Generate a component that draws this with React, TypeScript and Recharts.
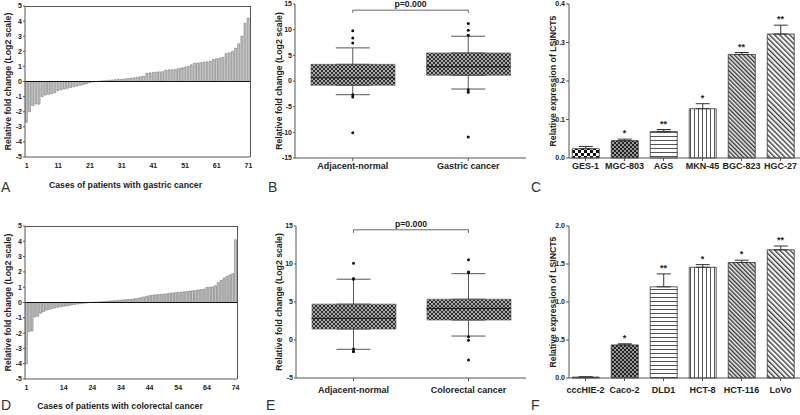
import React from 'react';
import {
  Bar, ComposedChart, XAxis, YAxis, ReferenceLine, Scatter, ErrorBar, Line, LabelList, Cell,
} from 'recharts';

const FONT = '"Liberation Sans", Arial, Helvetica, sans-serif';

// ---------- Panel A: gastric cancer waterfall ----------
const gastricFold = [
  -2.7, -2.0, -1.6, -1.5, -1.5, -1.0, -0.9, -0.85, -0.8, -0.75,
  -0.6, -0.55, -0.5, -0.45, -0.4, -0.35, -0.3, -0.25, -0.2, -0.15,
  -0.08, -0.03, 0.0, 0.02, 0.05, 0.06, 0.08, 0.1, 0.12, 0.14,
  0.15, 0.17, 0.2, 0.22, 0.25, 0.28, 0.32, 0.35, 0.55, 0.57,
  0.6, 0.62, 0.64, 0.65, 0.75, 0.77, 0.78, 0.8, 0.85, 0.9,
  0.95, 1.0, 1.1, 1.2, 1.22, 1.25, 1.28, 1.3, 1.35, 1.45,
  1.5, 1.55, 1.6, 1.85, 1.9, 2.0, 2.2, 2.5, 3.0, 3.85, 4.2,
];
const gastricTicks = ['1', '11', '21', '31', '41', '51', '61', '71'];

// ---------- Panel D: colorectal cancer waterfall ----------
const colorectalFold = [
  -4.0, -1.9, -1.85, -0.95, -0.9, -0.7, -0.6, -0.5, -0.45, -0.4,
  -0.35, -0.3, -0.28, -0.25, -0.22, -0.2, -0.15, -0.12, -0.1, -0.08,
  -0.05, -0.03, 0.0, 0.02, 0.03, 0.04, 0.05, 0.06, 0.08, 0.1,
  0.11, 0.12, 0.14, 0.15, 0.17, 0.19, 0.2, 0.22, 0.25, 0.28,
  0.32, 0.36, 0.4, 0.45, 0.48, 0.5, 0.52, 0.53, 0.55, 0.57,
  0.6, 0.62, 0.64, 0.66, 0.68, 0.7, 0.72, 0.74, 0.76, 0.78,
  0.82, 0.85, 0.87, 0.98, 1.0, 1.02, 1.1, 1.3, 1.45, 1.6,
  1.7, 1.8, 1.88, 4.1,
];
const colorectalTicks = ['1', '14', '24', '34', '44', '54', '64', '74'];
const foldTicks = [-5, -4, -3, -2, -1, 0, 1, 2, 3, 4, 5];

// ---------- Panel B: gastric box plot ----------
const boxBCats = ['Adjacent-normal', 'Gastric cancer'];
const boxBQ1 = [-0.85, 1.1];
const boxBMed = [0.6, 2.8];
const boxBQ3 = [3.25, 5.47];
const boxBLow = [-2.67, -1.56];
const boxBHigh = [6.45, 8.72];
const boxBOut = [
  [9.8, 8.4, 7.4, -2.7, -3.1, -10.1],
  [11.2, 9.9, 8.9, -1.7, -2.2, -10.9],
];
const boxBTicks = [-15, -10, -5, 0, 5, 10, 15];
const boxBBracket = [13.8, 13.3];

// ---------- Panel E: colorectal box plot ----------
const boxECats = ['Adjacent-normal', 'Colorectal cancer'];
const boxEQ1 = [1.44, 2.62];
const boxEMed = [2.84, 4.15];
const boxEQ3 = [4.72, 5.37];
const boxELow = [-1.22, 0.52];
const boxEHigh = [8.0, 8.73];
const boxEOut = [
  [10.1, 8.1, 8.0, -1.2, -1.5, -1.5],
  [10.57, 8.95, 8.86, 0.44, -0.04, -2.62],
];
const boxETicks = [-5, 0, 5, 10, 15];
const boxEBracket = [14.5, 14.1];

// ---------- Panel C: gastric cell lines ----------
const cellsC = ['GES-1', 'MGC-803', 'AGS', 'MKN-45', 'BGC-823', 'HGC-27'];
const exprC = [0.024, 0.045, 0.069, 0.128, 0.269, 0.322];
const errC = [0.006, 0.004, 0.005, 0.013, 0.005, 0.023];
const sigC = ['', '*', '**', '*', '**', '**'];
const ticksC = [0, 0.1, 0.2, 0.3, 0.4];

// ---------- Panel F: colorectal cell lines ----------
const cellsF = ['cccHIE-2', 'Caco-2', 'DLD1', 'HCT-8', 'HCT-116', 'LoVo'];
const exprF = [0.012, 0.435, 1.2, 1.457, 1.52, 1.687];
const errF = [0.004, 0.015, 0.17, 0.035, 0.03, 0.05];
const sigF = ['', '*', '**', '*', '*', '**'];
const ticksF = [0, 0.5, 1.0, 1.5, 2.0];

// styles
const patsC = ['url(#pCheckBig)', 'url(#pCheckDark)', 'url(#pHLines)', 'url(#pVLines)', 'url(#pDiagDense)', 'url(#pDiagWide)'];
const patsF = ['url(#pCheckDark)', 'url(#pCheckDark)', 'url(#pHLines)', 'url(#pVLines)', 'url(#pDiagDense)', 'url(#pDiagWide)'];

const tickStyle = { fontSize: 7, fontWeight: 700, fill: '#222', fontFamily: FONT };
const catStyle = { fontSize: 9, fontWeight: 700, fill: '#222', fontFamily: FONT };
const titleStyle = { fontSize: 8.7, fontWeight: 700, fill: '#222', fontFamily: FONT, textAnchor: 'middle' };
const AXIS = '#555';
const BOX_W = 84;

function Patterns() {
  return (
    <svg width={0} height={0} style={{ position: 'absolute' }}>
      <defs>
        <pattern id="pBox" width="4" height="4" patternUnits="userSpaceOnUse">
          <rect width="4" height="4" fill="#2e2e2e" />
          <rect x="0" y="0" width="2" height="2" fill="#ababab" />
          <rect x="2" y="2" width="2" height="2" fill="#ababab" />
        </pattern>
        <pattern id="pCheckBig" width="6" height="6" patternUnits="userSpaceOnUse">
          <rect width="6" height="6" fill="#fff" />
          <rect x="0" y="0" width="3" height="3" fill="#111" />
          <rect x="3" y="3" width="3" height="3" fill="#111" />
        </pattern>
        <pattern id="pCheckDark" width="4" height="4" patternUnits="userSpaceOnUse">
          <rect width="4" height="4" fill="#222" />
          <rect x="0" y="0" width="2" height="2" fill="#9a9a9a" />
          <rect x="2" y="2" width="2" height="2" fill="#9a9a9a" />
        </pattern>
        <pattern id="pHLines" width="4" height="4" patternUnits="userSpaceOnUse">
          <rect width="4" height="4" fill="#fff" />
          <rect x="0" y="0" width="4" height="1" fill="#555" />
        </pattern>
        <pattern id="pVLines" width="4" height="4" patternUnits="userSpaceOnUse">
          <rect width="4" height="4" fill="#fff" />
          <rect x="0" y="0" width="1" height="4" fill="#555" />
        </pattern>
        <pattern id="pDiagDense" width="3" height="3" patternUnits="userSpaceOnUse" patternTransform="rotate(-45)">
          <rect width="3" height="3" fill="#f2f2f2" />
          <rect x="0" y="0" width="1.4" height="3" fill="#333" />
        </pattern>
        <pattern id="pDiagWide" width="3.6" height="3.6" patternUnits="userSpaceOnUse" patternTransform="rotate(-45)">
          <rect width="3.6" height="3.6" fill="#f4f4f4" />
          <rect x="0" y="0" width="1.3" height="3.6" fill="#3a3a3a" />
        </pattern>
      </defs>
    </svg>
  );
}

const WF_YW = 25;

function Waterfall({ values, ticks, title, width, height, margin, xH, titleOffset, titleDx }: any) {
  const data = values.map((v: number, k: number) => ({ i: String(k + 1), v }));
  // frame around plot area, derived from the chart's own layout settings
  const plotLeft = margin.left + WF_YW;
  const plotTop = margin.top;
  const plotW = width - margin.left - margin.right - WF_YW;
  const plotH = height - margin.top - margin.bottom - xH;
  return (
    <div style={{ position: 'relative', width, height }}>
      <ComposedChart width={width} height={height} data={data} margin={margin} barCategoryGap="12%">
        <XAxis
          dataKey="i" ticks={ticks} interval={0} tickLine={false} tickSize={4} tickMargin={2}
          axisLine={{ stroke: AXIS }} height={xH} tick={tickStyle}
          label={{ value: title, position: 'insideBottom', offset: titleOffset, dx: titleDx, style: titleStyle }}
        />
        <YAxis
          domain={[-5, 5]} ticks={foldTicks} width={WF_YW} tickSize={2} tickMargin={1}
          tick={tickStyle} axisLine={{ stroke: AXIS }} tickLine={{ stroke: AXIS }}
          label={{ value: 'Relative fold change (Log2 scale)', angle: -90, position: 'insideLeft', offset: 8, style: titleStyle }}
        />
        <Bar dataKey="v" fill="#c8c8c8" stroke="#5f5f5f" strokeWidth={0.5} isAnimationActive={false} />
        <ReferenceLine y={0} stroke="#111" strokeWidth={1.2} />
      </ComposedChart>
      <div style={{
        position: 'absolute', left: plotLeft, top: plotTop - 0.5, width: plotW + 0.5, height: plotH,
        borderTop: `1px solid ${AXIS}`, borderRight: `1px solid ${AXIS}`, boxSizing: 'border-box', pointerEvents: 'none',
      }} />
    </div>
  );
}

const EmptyShape = () => <g />;
const OutDot = (p: any) => <circle cx={p.cx} cy={p.cy} r={1.5} fill="#111" />;
const MedShape = (p: any) => (
  <line x1={p.cx - BOX_W / 2} x2={p.cx + BOX_W / 2} y1={p.cy} y2={p.cy} stroke="#1a1a1a" strokeWidth={1} />
);

function BoxPanel({ cats, q1, med, q3, lo, hi, out, domain, ticks, bracket, width, height, margin, yW, xH, catMargin, titleOffset }: any) {
  const data = cats.map((name: string, k: number) => {
    const row: any = {
      name, box: [q1[k], q3[k]], q1: q1[k], q3: q3[k], med: med[k],
      upErr: [0, hi[k] - q3[k]], loErr: [q1[k] - lo[k], 0],
    };
    out[k].forEach((o: number, j: number) => { row['o' + j] = o; });
    return row;
  });
  const outKeys = out[0].map((_: number, j: number) => 'o' + j);
  return (
    <ComposedChart width={width} height={height} data={data} margin={margin}>
      <XAxis dataKey="name" interval={0} tickSize={3} tickMargin={catMargin} tick={catStyle} height={xH}
        axisLine={{ stroke: AXIS }} tickLine={{ stroke: AXIS }} />
      <YAxis domain={domain} ticks={ticks} width={yW} tickSize={2} tickMargin={1} tick={tickStyle}
        axisLine={{ stroke: AXIS }} tickLine={{ stroke: AXIS }} allowDataOverflow
        label={{ value: 'Relative fold change (Log2 scale)', angle: -90, position: 'insideLeft', offset: titleOffset, style: titleStyle }} />
      <Scatter dataKey="q3" shape={EmptyShape} isAnimationActive={false}>
        <ErrorBar dataKey="upErr" width={17} stroke="#555" strokeWidth={1} direction="y" />
      </Scatter>
      <Scatter dataKey="q1" shape={EmptyShape} isAnimationActive={false}>
        <ErrorBar dataKey="loErr" width={17} stroke="#555" strokeWidth={1} direction="y" />
      </Scatter>
      <Bar dataKey="box" barSize={BOX_W} fill="url(#pBox)" stroke="#555" strokeWidth={0.6} isAnimationActive={false} />
      <Scatter dataKey="med" shape={MedShape} isAnimationActive={false} />
      {outKeys.map((k: string) => (
        <Scatter key={k} dataKey={k} shape={OutDot} isAnimationActive={false} />
      ))}
      <ReferenceLine
        segment={[{ x: cats[0], y: bracket[0] }, { x: cats[1], y: bracket[0] }]}
        stroke="#666" ifOverflow="visible"
        label={{ value: 'p=0.000', position: 'top', offset: 3, style: { ...catStyle, fontSize: 8.7 } }}
      />
      <ReferenceLine segment={[{ x: cats[0], y: bracket[0] }, { x: cats[0], y: bracket[1] }]} stroke="#666" ifOverflow="visible" />
      <ReferenceLine segment={[{ x: cats[1], y: bracket[0] }, { x: cats[1], y: bracket[1] }]} stroke="#666" ifOverflow="visible" />
    </ComposedChart>
  );
}

function ExprPanel({ cells, vals, errs, sig, pats, domain, ticks, width, height, margin, xH, catMargin }: any) {
  const data = cells.map((name: string, k: number) => ({
    name, v: vals[k], err: [0, errs[k]], cap: vals[k] + errs[k], sig: sig[k],
  }));
  return (
    <ComposedChart width={width} height={height} data={data} margin={margin} barCategoryGap="16%">
      <XAxis dataKey="name" interval={0} padding={{ left: -3, right: 0 }} tickSize={3} tickMargin={catMargin}
        tick={catStyle} height={xH} axisLine={{ stroke: AXIS }} tickLine={{ stroke: AXIS }} />
      <YAxis domain={domain} ticks={ticks} width={39} tickSize={3} tickMargin={1} tick={tickStyle}
        tickFormatter={(v: number) => v.toFixed(1)} axisLine={{ stroke: AXIS }} tickLine={{ stroke: AXIS }}
        label={{ value: 'Relative expression of LSINCT5', angle: -90, position: 'insideLeft', offset: 23, style: titleStyle }} />
      <Bar dataKey="v" stroke="#333" strokeWidth={0.8} isAnimationActive={false}>
        {data.map((_: any, k: number) => <Cell key={k} fill={pats[k]} />)}
        <ErrorBar dataKey="err" width={7} stroke="#333" strokeWidth={1} direction="y" />
      </Bar>
      <Line dataKey="cap" stroke="none" dot={false} activeDot={false} isAnimationActive={false}>
        <LabelList dataKey="sig" position="top" offset={3} fill="#222" fontSize={9} fontWeight={700} fontFamily={FONT} />
      </Line>
    </ComposedChart>
  );
}

const letterStyle: any = { position: 'absolute', fontFamily: FONT, fontSize: 14, lineHeight: '14px', color: '#333', fontWeight: 400 };

export default function App() {
  return (
    <div style={{ position: 'absolute', left: 0, top: 0, width: 800, height: 415, overflow: 'hidden', background: '#fff', fontFamily: FONT, fontWeight: 700 }}>
      <Patterns />
      <div style={{ position: 'absolute', left: 0, top: 0 }}>
        <Waterfall values={gastricFold} ticks={gastricTicks} title="Cases of patients with gastric cancer"
          width={260} height={200} margin={{ top: 6, right: 10, left: 0, bottom: 0 }} xH={43} titleOffset={12} titleDx={-12} />
      </div>
      <div style={{ position: 'absolute', left: 0, top: 205 }}>
        <Waterfall values={colorectalFold} ticks={colorectalTicks} title="Cases of patients with colorectal cancer"
          width={260} height={210} margin={{ top: 21, right: 23, left: 0, bottom: 0 }} xH={36} titleOffset={6} titleDx={-11} />
      </div>
      <div style={{ position: 'absolute', left: 265, top: 0 }}>
        <BoxPanel cats={boxBCats} q1={boxBQ1} med={boxBMed} q3={boxBQ3} lo={boxBLow} hi={boxBHigh} out={boxBOut}
          domain={[-15, 15]} ticks={boxBTicks} bracket={boxBBracket}
          width={270} height={200} margin={{ top: 4, right: 9, left: 0, bottom: 0 }} yW={30} xH={42} catMargin={2} titleOffset={14} />
      </div>
      <div style={{ position: 'absolute', left: 265, top: 205 }}>
        <BoxPanel cats={boxECats} q1={boxEQ1} med={boxEMed} q3={boxEQ3} lo={boxELow} hi={boxEHigh} out={boxEOut}
          domain={[-5, 15]} ticks={boxETicks} bracket={boxEBracket}
          width={270} height={210} margin={{ top: 21, right: 9, left: 0, bottom: 0 }} yW={31} xH={37} catMargin={6} titleOffset={14} />
      </div>
      <div style={{ position: 'absolute', left: 530, top: 0 }}>
        <ExprPanel cells={cellsC} vals={exprC} errs={errC} sig={sigC} pats={patsC} domain={[0, 0.4]} ticks={ticksC}
          width={270} height={200} margin={{ top: 4, right: 0, left: 0, bottom: 0 }} xH={42} catMargin={2} />
      </div>
      <div style={{ position: 'absolute', left: 530, top: 205 }}>
        <ExprPanel cells={cellsF} vals={exprF} errs={errF} sig={sigF} pats={patsF} domain={[0, 2]} ticks={ticksF}
          width={270} height={210} margin={{ top: 21, right: 0, left: 0, bottom: 0 }} xH={37} catMargin={6} />
      </div>
      <div style={{ ...letterStyle, left: 1, top: 180 }}>A</div>
      <div style={{ ...letterStyle, left: 268, top: 180 }}>B</div>
      <div style={{ ...letterStyle, left: 531, top: 180 }}>C</div>
      <div style={{ ...letterStyle, left: 1, top: 398 }}>D</div>
      <div style={{ ...letterStyle, left: 266, top: 398 }}>E</div>
      <div style={{ ...letterStyle, left: 531, top: 398 }}>F</div>
    </div>
  );
}
